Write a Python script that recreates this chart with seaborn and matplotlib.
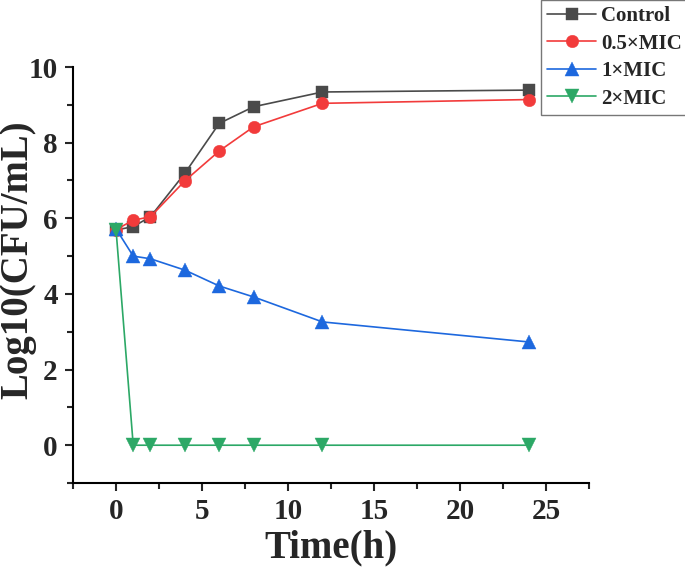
import numpy as np
import pandas as pd
import seaborn as sns
import matplotlib.pyplot as plt
from matplotlib.ticker import MultipleLocator

# sampling times (h)
time_h = [0, 1, 2, 4, 6, 8, 12, 24]

# log10 CFU/mL
control = [5.69, 5.78, 6.04, 7.19, 8.51, 8.95, 9.34, 9.39]
mic_05 = [5.70, 5.95, 6.04, 6.99, 7.78, 8.42, 9.04, 9.14]
mic_1 = [5.72, 5.00, 4.93, 4.63, 4.21, 3.92, 3.26, 2.73]
mic_2 = [5.70, 0, 0, 0, 0, 0, 0, 0]

groups = ['Control', '0.5×MIC', '1×MIC', '2×MIC']

df = pd.DataFrame({
    'Time': time_h * 4,
    'Log': control + mic_05 + mic_1 + mic_2,
    'Group': [g for g in groups for _ in time_h],
})

colors = {'Control': '#4a4a4a', '0.5×MIC': '#f23b3b',
          '1×MIC': '#1d68de', '2×MIC': '#2ca866'}
markers = {'Control': 's', '0.5×MIC': 'o', '1×MIC': '^', '2×MIC': 'v'}
msize = {'Control': 8, '0.5×MIC': 9, '1×MIC': 9.5, '2×MIC': 9.5}

sns.set_style('ticks')
plt.rcParams['font.family'] = ['Liberation Serif', 'DejaVu Serif']
plt.rcParams['font.weight'] = 'bold'

fig = plt.figure(figsize=(6.85, 5.68), dpi=100)
ax = fig.add_axes([0.1066, 0.1496, 0.7534, 0.7324])

for g in groups:
    sub = df[df['Group'] == g]
    sns.lineplot(data=sub, x='Time', y='Log', ax=ax, color=colors[g],
                 marker=markers[g], markersize=msize[g], markeredgewidth=0.3,
                 markeredgecolor=colors[g], linewidth=1.2, label=g,
                 legend=False)

ax.set_xlim(-2.5, 27.5)
ax.set_ylim(-1, 10)
ax.xaxis.set_major_locator(MultipleLocator(5))
ax.xaxis.set_minor_locator(MultipleLocator(2.5))
ax.yaxis.set_major_locator(MultipleLocator(2))
ax.yaxis.set_minor_locator(MultipleLocator(1))
ax.tick_params(which='major', length=6, width=1.5, labelsize=21, pad=5)
ax.tick_params(which='minor', length=4, width=1.5)
for lab in ax.get_xticklabels() + ax.get_yticklabels():
    lab.set_fontweight('bold')

sns.despine(ax=ax)
for s in ['left', 'bottom']:
    ax.spines[s].set_linewidth(1.5)
    ax.spines[s].set_color('black')

ax.set_xlabel('Time(h)', fontsize=28, fontweight='bold', labelpad=3)
ax.set_ylabel('Log10(CFU/mL)', fontsize=28, fontweight='bold')
ax.yaxis.set_label_coords(-0.071, 0.536)

# legend box sits in the top-right corner
leg = fig.legend(loc='upper left', bbox_to_anchor=(541 / 685, 1.0),
                 fontsize=15, frameon=True, fancybox=False,
                 labelspacing=0.36, handlelength=2.35, handletextpad=0.25,
                 borderaxespad=0, borderpad=0.3)
leg.get_frame().set_edgecolor('#555555')
leg.get_frame().set_linewidth(1.0)
for t in leg.get_texts():
    t.set_fontweight('bold')

fig.savefig('out.png', dpi=100)
